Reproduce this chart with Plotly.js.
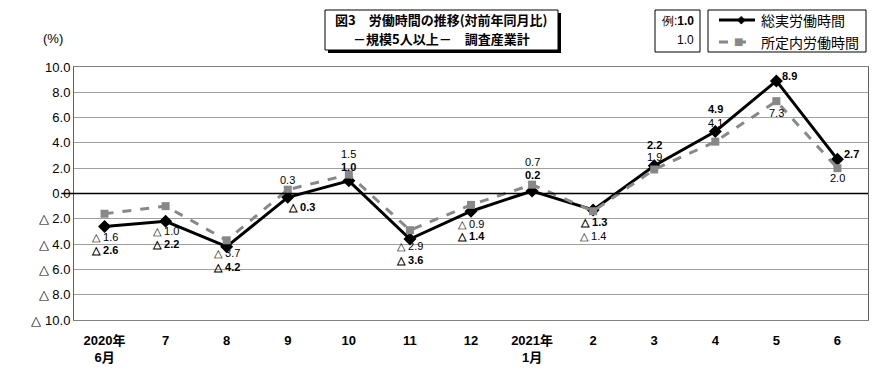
<!DOCTYPE html>
<html><head><meta charset="utf-8">
<script src="https://cdn.plot.ly/plotly-3.0.1.min.js"></script>
<style>body{margin:0;background:#fff}#c{width:890px;height:376px}</style>
</head><body><div id="c"></div>
<script>
const categories = ["2020年<br>6月","7","8","9","10","11","12","2021年<br>1月","2","3","4","5","6"];
const totalHours = [-2.6,-2.2,-4.2,-0.3,1.0,-3.6,-1.4,0.2,-1.3,2.2,4.9,8.9,2.7];
const scheduledHours = [-1.6,-1.0,-3.7,0.3,1.5,-2.9,-0.9,0.7,-1.4,1.9,4.1,7.3,2.0];
const seriesNames = ["総実労働時間","所定内労働時間"];
const yTickVals = [10,8,6,4,2,0,-2,-4,-6,-8,-10];
const yTickText = ["10.0","8.0","6.0","4.0","2.0","0.0","△ 2.0","△ 4.0","△ 6.0","△ 8.0","△ 10.0"];

// label offsets (px)
const totXs = [0,0,0,14,0,0,0,0,0,0,0,13,14];
const totYs = [-24,-23,-20,-10,14,-21,-25,16,-12,21,23,5,5];
const schXs = [0,0,0,0,0,0,0,0,0,0,0,0,0];
const schYs = [-23,-25,-13,10,21,-16,-19,23,-25,12,19,-12,-10];

const fmt = v => v < 0 ? "△ " + Math.abs(v).toFixed(1) : v.toFixed(1);
const lab = "Liberation Sans Narrow, Liberation Sans, Arial, sans-serif";
const jp = "Noto Sans CJK JP, sans-serif";
const xIdx = categories.map((c,i)=>i);

const traces = [
  {x:xIdx, y:totalHours, name:seriesNames[0], mode:"lines+markers",
   line:{color:"#000",width:3}, marker:{symbol:"diamond",size:10,color:"#000"}},
  {x:xIdx, y:scheduledHours, name:seriesNames[1], mode:"lines+markers",
   line:{color:"#888",width:3,dash:"dash"}, marker:{symbol:"square",size:8,color:"#888"}}
];

const P = (px)=>(px-74)/794;      // paper x from pixel
const Q = (py)=>(320-py)/253;     // paper y from pixel

const ann = [];
totalHours.forEach((v,i)=>ann.push({x:i,y:v,text:"<b>"+fmt(v)+"</b>",showarrow:false,xshift:totXs[i],yshift:totYs[i],
  font:{family:lab,size:11,color:"#000"}}));
scheduledHours.forEach((v,i)=>ann.push({x:i,y:v,text:fmt(v),showarrow:false,xshift:schXs[i],yshift:schYs[i],
  font:{family:lab,size:11,color:"#000"}}));
ann.push({xref:"paper",yref:"paper",x:P(53),y:Q(38),xanchor:"center",yanchor:"middle",text:"(%)",showarrow:false,
  font:{family:"Arial, Liberation Sans, sans-serif",size:13,color:"#000"}});
// title text
ann.push({xref:"paper",yref:"paper",x:P(441),y:Q(20),xanchor:"center",yanchor:"middle",showarrow:false,
  text:"<b>図3　労働時間の推移(対前年同月比)</b>",font:{family:jp,size:13,color:"#000"}});
ann.push({xref:"paper",yref:"paper",x:P(441),y:Q(39),xanchor:"center",yanchor:"middle",showarrow:false,
  text:"<b>－規模5人以上－　調査産業計</b>",font:{family:jp,size:13,color:"#000"}});
// example box text
ann.push({xref:"paper",yref:"paper",x:P(696),y:Q(21),xanchor:"right",yanchor:"middle",showarrow:false,
  text:"例:<b>1.0</b>",font:{family:lab,size:12,color:"#000"}});
ann.push({xref:"paper",yref:"paper",x:P(696),y:Q(40),xanchor:"right",yanchor:"middle",showarrow:false,
  text:"1.0",font:{family:lab,size:12,color:"#000"}});
// custom legend text + marker glyphs
ann.push({xref:"paper",yref:"paper",x:P(759),y:Q(20),xanchor:"left",yanchor:"middle",showarrow:false,
  text:seriesNames[0],font:{family:jp,size:14,color:"#000"}});
ann.push({xref:"paper",yref:"paper",x:P(759),y:Q(42),xanchor:"left",yanchor:"middle",showarrow:false,
  text:seriesNames[1],font:{family:jp,size:14,color:"#000"}});
ann.push({xref:"paper",yref:"paper",x:P(741),y:Q(20),xanchor:"center",yanchor:"middle",showarrow:false,
  text:"◆",font:{family:"DejaVu Sans, sans-serif",size:11,color:"#000"}});
ann.push({xref:"paper",yref:"paper",x:P(738),y:Q(42),xanchor:"center",yanchor:"middle",showarrow:false,
  text:"■",font:{family:"DejaVu Sans, sans-serif",size:10,color:"#888"}});

const shapes = [
  {type:"line",xref:"paper",yref:"y",x0:-0.016,x1:1,y0:0,y1:0,line:{color:"#000",width:1.5}},
  // title box with shadow
  {type:"rect",xref:"paper",yref:"paper",x0:P(328),x1:P(561),y0:Q(53),y1:Q(13),fillcolor:"#000",line:{width:0}},
  {type:"rect",xref:"paper",yref:"paper",x0:P(325),x1:P(558),y0:Q(50),y1:Q(10),fillcolor:"#fff",line:{color:"#000",width:1}},
  // example box
  {type:"rect",xref:"paper",yref:"paper",x0:P(655),x1:P(700),y0:Q(52),y1:Q(10),fillcolor:"#fff",line:{color:"#000",width:1}},
  // legend box
  {type:"rect",xref:"paper",yref:"paper",x0:P(708),x1:P(866),y0:Q(52),y1:Q(10),fillcolor:"#fff",line:{color:"#000",width:1}},
  {type:"line",xref:"paper",yref:"paper",x0:P(719),x1:P(755),y0:Q(20),y1:Q(20),line:{color:"#000",width:3}},
  {type:"line",xref:"paper",yref:"paper",x0:P(719),x1:P(755),y0:Q(42),y1:Q(42),line:{color:"#888",width:3,dash:"dash"}}
];

const layout = {
  width:890,height:376,
  margin:{l:74,r:22,t:67,b:56,autoexpand:false},
  paper_bgcolor:"#fff",plot_bgcolor:"#fff",
  showlegend:false,
  xaxis:{range:[-0.5,12.5],tickvals:xIdx,ticktext:categories,showgrid:false,zeroline:false,
    showline:true,linecolor:"#808080",linewidth:1,mirror:true,ticks:"",ticklabelstandoff:8,
    tickfont:{family:"Arial, Liberation Sans, Noto Sans CJK JP, sans-serif",size:13,color:"#000",weight:"bold"}},
  yaxis:{range:[-10,10],tickvals:yTickVals,ticktext:yTickText,showgrid:true,gridcolor:"#a0a0a0",gridwidth:1,
    zeroline:false,showline:true,linecolor:"#606060",linewidth:1,mirror:true,ticks:"",
    tickfont:{family:"Arial, Liberation Sans, sans-serif",size:13,color:"#000"}},
  annotations:ann,shapes:shapes
};
Plotly.newPlot("c",traces,layout,{displayModeBar:false,staticPlot:true});
</script></body></html>
